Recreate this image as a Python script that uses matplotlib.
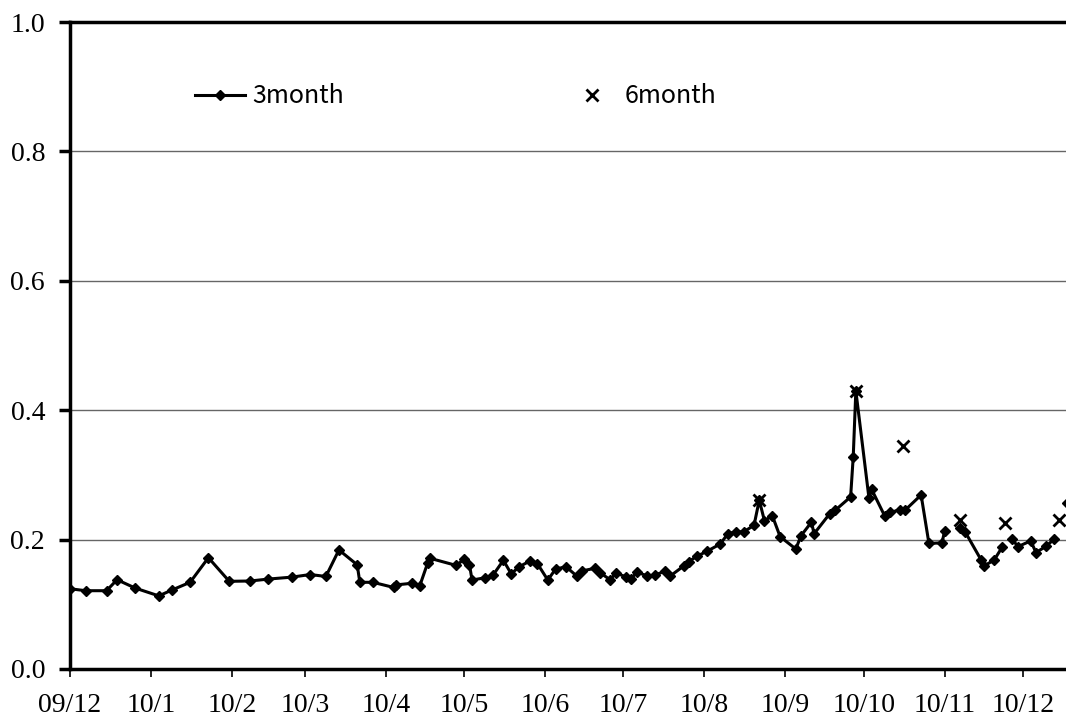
import numpy as np
import pandas as pd
import matplotlib
matplotlib.use("Agg")
import matplotlib.pyplot as plt
import matplotlib.dates as mdates

# 3month series (NaN = gap in the line)
dates_3m = [
    "2009-12-01", "2009-12-07", "2009-12-15", "2009-12-19", "2009-12-26",
    "2010-01-04", "2010-01-09", "2010-01-16", "2010-01-23", "2010-01-31",
    "2010-02-08", "2010-02-15", "2010-02-24", "2010-03-03", "2010-03-09",
    "2010-03-14", "2010-03-21", "2010-03-22", "2010-03-27", "2010-04-04",
    "2010-04-05", "2010-04-11", "2010-04-14", "2010-04-17", "2010-04-18",
    "2010-04-28", "2010-05-01", "2010-05-03", "2010-05-04", "2010-05-09",
    "2010-05-12", "2010-05-16", "2010-05-19", "2010-05-22", "2010-05-26",
    "2010-05-29", "2010-06-02", "2010-06-05", "2010-06-09", "2010-06-13",
    "2010-06-15", "2010-06-20", "2010-06-22", "2010-06-26", "2010-06-28",
    "2010-07-02", "2010-07-04", "2010-07-06", "2010-07-10", "2010-07-13",
    "2010-07-17", "2010-07-19", "2010-07-24", "2010-07-26", "2010-07-29",
    "2010-08-02", "2010-08-07", "2010-08-10", "2010-08-13", "2010-08-16",
    "2010-08-20", "2010-08-22", "2010-08-24", "2010-08-27", "2010-08-30",
    "2010-09-05", "2010-09-07", "2010-09-11", "2010-09-12", "2010-09-18",
    "2010-09-20", "2010-09-26", "2010-09-27", "2010-09-28", "2010-10-03",
    "2010-10-04", "2010-10-09", "2010-10-11", "2010-10-15", "2010-10-17",
    "2010-10-23", "2010-10-26", "2010-10-31", "2010-11-01", "2010-11-04",
    "2010-11-07", "2010-11-09", "2010-11-15", "2010-11-16", "2010-11-20",
    "2010-11-23", "2010-11-25", "2010-11-27", "2010-11-29", "2010-12-04",
    "2010-12-06", "2010-12-10", "2010-12-13", "2010-12-15", "2010-12-18",
]
vals_3m = [
    0.124, 0.121, 0.121, 0.138, 0.125,
    0.113, 0.122, 0.134, 0.172, 0.1355,
    0.136, 0.139, 0.142, 0.146, 0.143,
    0.184, 0.161, 0.134, 0.134, 0.126,
    0.130, 0.1325, 0.129, 0.164, 0.171,
    0.160, 0.170, 0.161, 0.1375, 0.141,
    0.145, 0.168, 0.147, 0.158, 0.1665,
    0.163, 0.1375, 0.1545, 0.158, 0.144,
    0.1515, 0.1556, 0.149, 0.1375, 0.149,
    0.142, 0.139, 0.150, 0.144, 0.145,
    0.1515, 0.144, 0.159, 0.166, 0.174,
    0.182, 0.193, 0.209, 0.212, 0.212,
    0.222, 0.261, 0.229, 0.237, 0.2045,
    0.1855, 0.206, 0.227, 0.209, 0.240,
    0.245, 0.266, 0.328, 0.430, 0.265,
    0.278, 0.237, 0.242, 0.246, 0.246,
    0.269, 0.194, 0.195, 0.213, np.nan,
    0.2175, 0.211, 0.1685, 0.159, 0.1685,
    0.188, np.nan, 0.201, 0.189, 0.198,
    0.180, 0.190, 0.201, np.nan, 0.256,
]

# 6month series
dates_6m = ["2010-08-22", "2010-09-28", "2010-10-16", "2010-11-07",
            "2010-11-24", "2010-12-15"]
vals_6m = [0.261, 0.430, 0.345, 0.231, 0.225, 0.230]

tick_dates = ["2009-12-01", "2010-01-01", "2010-02-01", "2010-03-01",
              "2010-04-01", "2010-05-01", "2010-06-01", "2010-07-01",
              "2010-08-01", "2010-09-01", "2010-10-01", "2010-11-01",
              "2010-12-01"]
tick_labels = ["09/12", "10/1", "10/2", "10/3", "10/4", "10/5", "10/6",
               "10/7", "10/8", "10/9", "10/10", "10/11", "10/12"]
y_ticks = [0.0, 0.2, 0.4, 0.6, 0.8, 1.0]

plt.rcParams["font.family"] = ["Liberation Serif", "DejaVu Serif"]
GOTHIC = ["Noto Sans CJK JP", "DejaVu Sans"]

fig = plt.figure(figsize=(10.66, 7.27), dpi=100, facecolor="white")
ax = fig.add_axes([0.0657, 0.0798, 1.0 - 0.0657, 0.9697 - 0.0798])

d3 = pd.to_datetime(dates_3m)
d6 = pd.to_datetime(dates_6m)

ax.plot(d3, vals_3m, color="black", linewidth=2.2, marker="D",
        markersize=5, label="3month", zorder=3)
ax.plot(d6, vals_6m, linestyle="none", color="black", marker="x",
        markersize=8, markeredgewidth=2.0, label="6month", zorder=4)

ax.set_xlim(pd.Timestamp("2009-12-01"), pd.Timestamp("2010-12-17 12:00"))
ax.set_ylim(0, 1.0)

ax.tick_params(axis="y", direction="out", length=8, width=2.5, pad=10,
               labelsize=20)
ax.tick_params(axis="x", direction="out", length=6, width=1.2, pad=11,
               labelsize=20)

ax.set_yticks(y_ticks)
ax.set_yticklabels([f"{v:.1f}" for v in y_ticks])
ax.set_xticks(mdates.date2num(pd.to_datetime(tick_dates)))
ax.set_xticklabels(tick_labels)

for y in y_ticks[1:-1]:
    ax.axhline(y, color="#666666", linewidth=1.0, zorder=1)

for side in ["left", "top", "bottom"]:
    ax.spines[side].set_linewidth(2.5)
    ax.spines[side].set_color("black")
ax.spines["right"].set_visible(False)

leg = ax.legend(loc="upper left", bbox_to_anchor=(0.103, 0.94), ncol=2,
                frameon=False, handlelength=2.0, handletextpad=0.3,
                columnspacing=8.9, prop={"family": GOTHIC, "size": 18})

fig.savefig("out.png", dpi=100, facecolor="white")
